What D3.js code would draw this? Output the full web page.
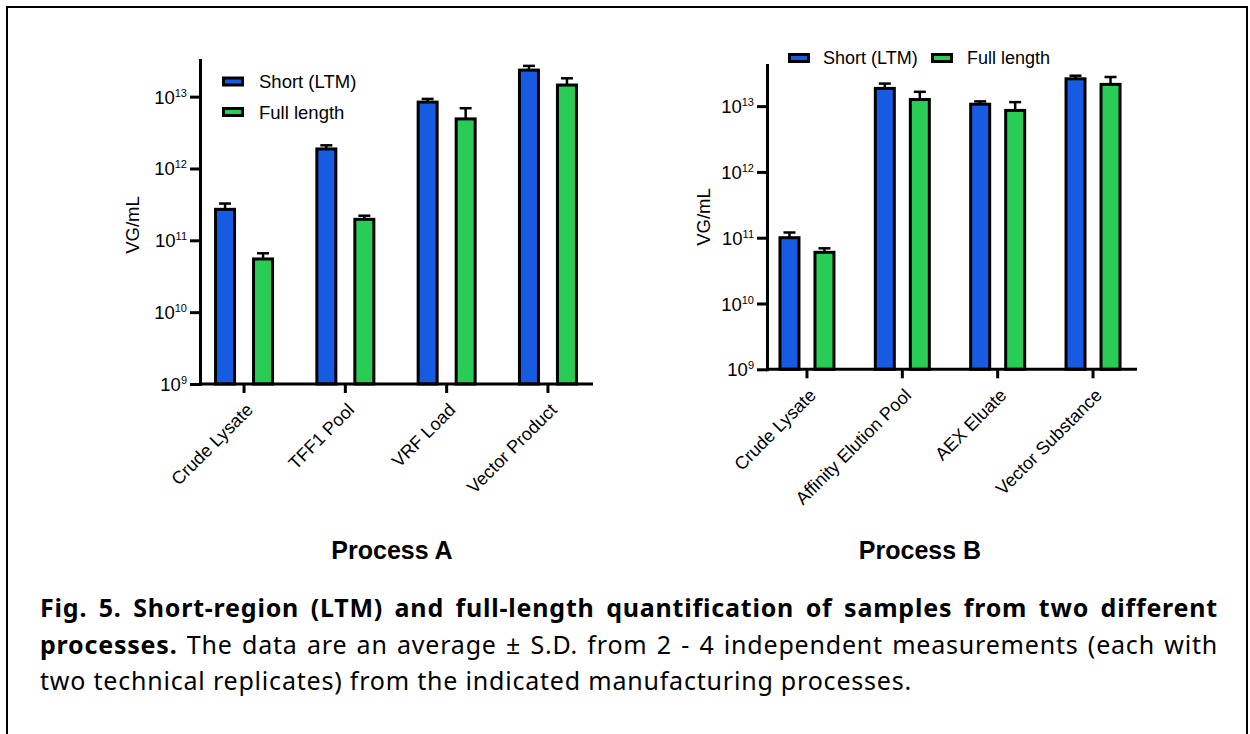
<!DOCTYPE html>
<html>
<head>
<meta charset="utf-8">
<script src="https://cdn.jsdelivr.net/npm/d3@7"></script>
<style>
  html, body { margin: 0; padding: 0; background: #fff; }
  svg { display: block; }
</style>
</head>
<body>
<svg id="chart" width="1250" height="734"></svg>
<script>
// ---------------- DATA ----------------
const seriesNames = ["Short (LTM)", "Full length"];

const categoriesA = ["Crude Lysate", "TFF1 Pool", "VRF Load", "Vector Product"];
const shortA    = [2.7e11, 1.87e12, 8.4e12, 2.34e13];
const shortA_sd = [0.55e11, 0.23e12, 0.9e12, 0.34e13];
const fullA     = [5.5e10, 1.96e11, 4.9e12, 1.45e13];
const fullA_sd  = [1.1e10, 0.24e11, 2.0e12, 0.35e13];

const categoriesB = ["Crude Lysate", "Affinity Elution Pool", "AEX Eluate", "Vector Substance"];
const shortB    = [1.0e11, 1.86e13, 1.07e13, 2.6e13];
const shortB_sd = [0.2e11, 0.34e13, 0.11e13, 0.3e13];
const fullB     = [6.0e10, 1.26e13, 8.6e12, 2.14e13];
const fullB_sd  = [0.9e10, 0.39e13, 2.9e12, 0.63e13];

const yTickValues = [1e9, 1e10, 1e11, 1e12, 1e13];
const yTickExponents = ["9", "10", "11", "12", "13"];

const panelTitles = ["Process A", "Process B"];
const yLabel = "VG/mL";

const captionLines = [
  [{t: "Fig. 5. Short-region (LTM) and full-length quantification of samples from two different", b: true}],
  [{t: "processes.", b: true}, {t: " The data are an average \u00B1 S.D. from 2 - 4 independent measurements (each with", b: false}],
  [{t: "two technical replicates) from the indicated manufacturing processes.", b: false}]
];

// ---------------- STYLE ----------------
const colors = ["#185BE3", "#29CC55"];
const FONT = "'Liberation Sans', Arial, Helvetica, sans-serif";
const CAP_FONT = "'Noto Sans', 'Open Sans', sans-serif";

const svg = d3.select("#chart");

// Frame
svg.append("rect")
  .attr("x", 7).attr("y", 7).attr("width", 1240).attr("height", 760)
  .attr("fill", "none").attr("stroke", "#000").attr("stroke-width", 2);

const panels = [
  {
    cats: categoriesA, vals: [shortA, fullA], sds: [shortA_sd, fullA_sd],
    left: 200, right: 593, top: 60, bottom: 384, topExp: 13.51,
    bandRange: [193.4, 598.6], off: 19,
    legend: {type: "vertical", x: 222, y: 81.5, dy: 30.5, textX: 259, fs: 18.5},
    yLabelX: 139, yLabelY: 225, title: panelTitles[0], titleX: 392
  },
  {
    cats: categoriesB, vals: [shortB, fullB], sds: [shortB_sd, fullB_sd],
    left: 767, right: 1137, top: 65, bottom: 369.3, topExp: 13.625,
    bandRange: [759.3, 1140.7], off: 17.5,
    legend: {type: "horizontal", xs: [788, 931], y: 58, textXs: [823, 967], fs: 18},
    yLabelX: 710, yLabelY: 217, title: panelTitles[1], titleX: 920
  }
];

const barW = 19;

panels.forEach(p => {
  const g = svg.append("g");
  const y = d3.scaleLog().domain([1e9, Math.pow(10, p.topExp)]).range([p.bottom, p.top]);
  const x = d3.scaleBand().domain(p.cats).range(p.bandRange).paddingInner(0).paddingOuter(0);
  const xs = d3.scalePoint().domain(seriesNames).range([-p.off, p.off]);

  // Bars
  seriesNames.forEach((s, si) => {
    const data = p.cats.map((c, i) => ({c, v: p.vals[si][i], sd: p.sds[si][i]}));
    const cx = d => x(d.c) + x.bandwidth() / 2 + xs(s);

    g.append("g").selectAll("rect").data(data).join("rect")
      .attr("x", d => cx(d) - barW / 2)
      .attr("y", d => y(d.v))
      .attr("width", barW)
      .attr("height", d => p.bottom - y(d.v))
      .attr("fill", colors[si])
      .attr("stroke", "#000")
      .attr("stroke-width", 3);

    const eg = g.append("g").attr("stroke", "#000").attr("stroke-width", 2.5);
    eg.selectAll("line.v").data(data).join("line").attr("class", "v")
      .attr("x1", cx).attr("x2", cx)
      .attr("y1", d => y(d.v)).attr("y2", d => y(d.v + d.sd));
    eg.selectAll("line.c").data(data).join("line").attr("class", "c")
      .attr("x1", d => cx(d) - 6).attr("x2", d => cx(d) + 6)
      .attr("y1", d => y(d.v + d.sd)).attr("y2", d => y(d.v + d.sd));
  });

  // Y axis
  const yAxis = d3.axisLeft(y).tickValues(yTickValues).tickSize(10).tickSizeOuter(0).tickFormat("");
  const yg = g.append("g").attr("transform", `translate(${p.left},0)`).call(yAxis);
  yg.select(".domain").attr("stroke-width", 3).attr("stroke-linecap", "square");
  yg.selectAll(".tick line").attr("stroke-width", 3);
  yg.selectAll(".tick").each(function(d, i) {
    const t = d3.select(this).append("text")
      .attr("x", -13).attr("y", 6.5)
      .attr("text-anchor", "end")
      .attr("fill", "#000")
      .style("font-family", FONT)
      .style("font-size", "18.5px");
    t.append("tspan").text("10");
    t.append("tspan").attr("dy", -7).style("font-size", "11px").text(yTickExponents[i]);
  });

  // X axis baseline
  g.append("line")
    .attr("x1", p.left).attr("x2", p.right)
    .attr("y1", p.bottom).attr("y2", p.bottom)
    .attr("stroke", "#000").attr("stroke-width", 3);

  const xAxis = d3.axisBottom(x).tickSize(9).tickSizeOuter(0);
  const xg = g.append("g").attr("transform", `translate(0,${p.bottom})`).call(xAxis);
  xg.select(".domain").remove();
  xg.selectAll(".tick line").attr("stroke-width", 3);
  xg.selectAll(".tick text")
    .attr("y", null).attr("dy", null)
    .attr("transform", "translate(10,27) rotate(-45)")
    .attr("text-anchor", "end")
    .attr("fill", "#000")
    .style("font-family", FONT)
    .style("font-size", "18px");

  // Y label
  g.append("text")
    .attr("transform", `translate(${p.yLabelX},${p.yLabelY}) rotate(-90)`)
    .attr("text-anchor", "middle")
    .style("font-family", FONT).style("font-size", "18.5px")
    .text(yLabel);

  // Legend
  const L = p.legend;
  seriesNames.forEach((s, si) => {
    let sx, sy, tx;
    if (L.type === "vertical") { sx = L.x; sy = L.y + si * L.dy; tx = L.textX; }
    else { sx = L.xs[si]; sy = L.y; tx = L.textXs[si]; }
    g.append("rect")
      .attr("x", sx + 1.5).attr("y", sy - 3.5).attr("width", 19).attr("height", 7)
      .attr("fill", colors[si]).attr("stroke", "#000").attr("stroke-width", 3);
    g.append("text")
      .attr("x", tx).attr("y", sy).attr("dy", "0.36em")
      .style("font-family", FONT).style("font-size", L.fs + "px")
      .text(s);
  });

  // Title
  g.append("text")
    .attr("x", p.titleX).attr("y", 559)
    .attr("text-anchor", "middle")
    .style("font-family", FONT).style("font-size", "25px").style("font-weight", "bold")
    .text(p.title);
});

// Caption: left aligned at 40, justified to 1218; last line ~872px wide
const capLeft = 40, capRight = 1218, lastLineWidth = 872;
const capBaselines = [617, 653.5, 690];
const capTexts = captionLines.map((segs, li) => {
  const t = svg.append("text")
    .attr("x", capLeft).attr("y", capBaselines[li])
    .style("font-family", CAP_FONT)
    .style("font-size", "25px")
    .attr("fill", "#000");
  segs.forEach(sg => {
    t.append("tspan").style("font-weight", sg.b ? "bold" : "normal").text(sg.t);
  });
  return t;
});
// letter spacing fitted to the last line
const lastT = capTexts[capTexts.length - 1];
const lastStr = captionLines[captionLines.length - 1].map(s => s.t).join("");
const ls = Math.max(0, (lastLineWidth - lastT.node().getComputedTextLength()) / lastStr.length);
capTexts.forEach(t => t.style("letter-spacing", ls + "px"));
capTexts.forEach((t, li) => {
  if (li < capTexts.length - 1) {
    const w = t.node().getComputedTextLength();
    const full = captionLines[li].map(s => s.t).join("");
    const nSp = (full.match(/ /g) || []).length;
    t.style("word-spacing", ((capRight - capLeft - w) / nSp) + "px");
  }
});
</script>
</body>
</html>
